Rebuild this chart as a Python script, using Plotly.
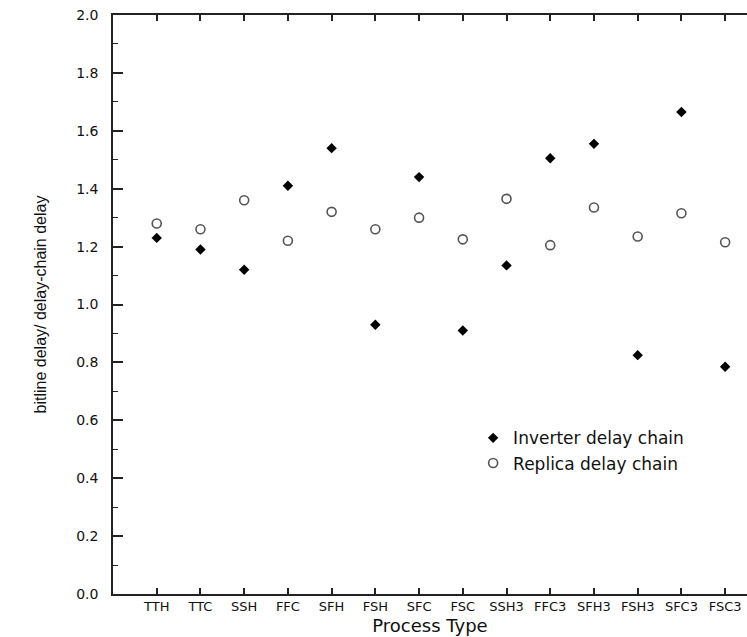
import plotly.graph_objects as go

categories = ["TTH", "TTC", "SSH", "FFC", "SFH", "FSH", "SFC", "FSC",
              "SSH3", "FFC3", "SFH3", "FSH3", "SFC3", "FSC3"]
inverter = [1.23, 1.19, 1.12, 1.41, 1.54, 0.93, 1.44, 0.91,
            1.135, 1.505, 1.555, 0.825, 1.665, 0.785]
replica = [1.28, 1.26, 1.36, 1.22, 1.32, 1.26, 1.30, 1.225,
           1.365, 1.205, 1.335, 1.235, 1.315, 1.215]
y_ticks = [0.0, 0.2, 0.4, 0.6, 0.8, 1.0, 1.2, 1.4, 1.6, 1.8, 2.0]

xpos = list(range(len(categories)))

WIDE = "DejaVu Sans, Verdana, sans-serif"

fig = go.Figure()
fig.add_trace(go.Scatter(
    x=xpos, y=inverter, mode="markers", name="Inverter delay chain",
    marker=dict(symbol="diamond", size=8, color="black"),
))
fig.add_trace(go.Scatter(
    x=xpos, y=replica, mode="markers", name="Replica delay chain",
    marker=dict(symbol="circle-open", size=9, color="#555555", line=dict(width=1.6, color="#555555")),
))

fig.update_layout(
    width=747, height=637,
    margin=dict(l=113, r=0, t=15, b=43),
    paper_bgcolor="white", plot_bgcolor="white",
    font=dict(family=WIDE, color="#111111"),
    showlegend=True,
    legend=dict(x=0.568, y=0.30, xanchor="left", yanchor="top",
                font=dict(size=17, family=WIDE, color="#111111"), bgcolor="rgba(0,0,0,0)",
                itemwidth=30, tracegroupgap=0),
)
fig.update_xaxes(
    range=[-1.0, 13.5], tickmode="array", tickvals=xpos, ticktext=categories,
    ticks="inside", ticklen=6, tickwidth=1.5, tickcolor="#222222",
    showline=True, linecolor="#222222", linewidth=1.5, mirror="ticks",
    showgrid=False, zeroline=False,
    tickfont=dict(size=13, family=WIDE),
    title=dict(text="Process Type", font=dict(size=18, family=WIDE), standoff=6),
)
fig.update_yaxes(
    range=[0, 2.0], tickmode="array", tickvals=y_ticks,
    ticktext=[f"{v:.1f}" for v in y_ticks],
    ticks="inside", ticklen=10, tickwidth=1.5, tickcolor="#222222",
    minor=dict(dtick=0.1, ticks="inside", ticklen=5, tickwidth=1.2, tickcolor="#222222"),
    showline=True, linecolor="#222222", linewidth=1.5,
    showgrid=False, zeroline=False,
    ticklabelstandoff=10,
    tickfont=dict(size=14, family=WIDE),
    title=dict(text="bitline delay/ delay-chain delay",
               font=dict(size=16, family="Liberation Sans Narrow, Liberation Sans, Arial, sans-serif"),
               standoff=26),
)

fig.write_html("out.html")
